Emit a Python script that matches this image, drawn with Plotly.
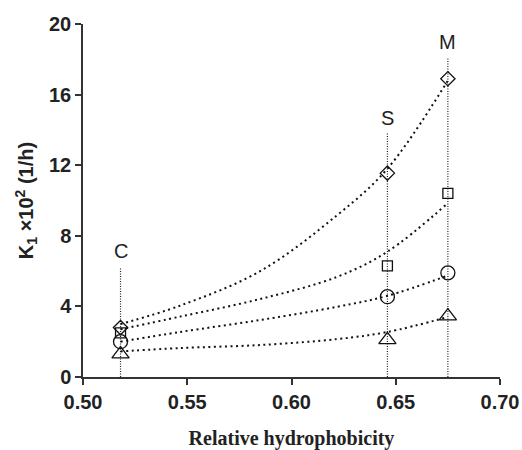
import plotly.graph_objects as go

# Data
x_sites = [0.518, 0.646, 0.675]
site_labels = ["C", "S", "M"]
line_tops = [6.2, 13.8, 18.1]
label_y = [7.15, 14.65, 19.0]
y_diamond = [2.8, 11.55, 16.9]
y_square = [2.5, 6.3, 10.4]
y_circle = [2.0, 4.55, 5.9]
y_triangle = [1.3, 2.1, 3.45]

# trend curves
x_trend = [0.518, 0.5465, 0.585, 0.622, 0.646, 0.675]
trend_diamond = [3.0, 4.04, 6.0, 9.18, 11.8, 16.8]
trend_square = [2.7, 3.42, 4.42, 5.68, 7.1, 9.85]
trend_circle = [2.0, 2.55, 3.23, 3.98, 4.6, 5.75]
trend_triangle = [1.45, 1.64, 1.81, 2.15, 2.55, 3.4]

symbols = ["diamond", "square", "circle", "triangle-up"]
sizes = [11, 10, 14, 15]
x_ticks = [0.50, 0.55, 0.60, 0.65, 0.70]
y_ticks = [0, 4, 8, 12, 16, 20]

fig = go.Figure()

# vertical dotted lines
for xs, top in zip(x_sites, line_tops):
    fig.add_trace(go.Scatter(x=[xs, xs], y=[0, top], mode="lines",
                             line=dict(color="#222", width=1.2, dash="1px,1.5px"),
                             showlegend=False, hoverinfo="skip"))

for tr in [trend_diamond, trend_square, trend_circle, trend_triangle]:
    fig.add_trace(go.Scatter(x=x_trend, y=tr, mode="lines",
                             line=dict(color="#111", width=2, dash="2px,3.5px",
                                       shape="spline", smoothing=1),
                             showlegend=False, hoverinfo="skip"))

for ys, sym, sz in zip([y_diamond, y_square, y_circle, y_triangle], symbols, sizes):
    fig.add_trace(go.Scatter(x=x_sites, y=ys, mode="markers",
                             marker=dict(symbol=sym, size=sz, color="rgba(255,255,255,0)",
                                         line=dict(color="#111", width=1.3)),
                             showlegend=False))

for xs, lab, ly in zip(x_sites, site_labels, label_y):
    fig.add_annotation(x=xs, y=ly, text=lab, showarrow=False,
                       font=dict(family="Liberation Sans, Arial", size=20, color="#222"))

tickfont = dict(family="Liberation Sans, Arial", size=20, color="#222", weight="bold")
fig.update_layout(
    width=522, height=450,
    margin=dict(l=83, r=22, t=24, b=73),
    plot_bgcolor="white", paper_bgcolor="white",
    xaxis=dict(range=[0.50, 0.70], tickvals=x_ticks, ticktext=[f"{v:.2f}" for v in x_ticks],
               showgrid=False, zeroline=False, showline=True, linecolor="#333", linewidth=1.5,
               ticks="outside", ticklen=6, tickcolor="#333", tickwidth=1.5,
               tickfont=tickfont, automargin=False,
               title=dict(text="<b>Relative hydrophobicity</b>", standoff=19,
                          font=dict(family="Liberation Serif, Times New Roman", size=20, color="#222"))),
    yaxis=dict(range=[0, 20], tickvals=y_ticks,
               showgrid=False, zeroline=False, showline=True, linecolor="#333", linewidth=1.5,
               ticks="outside", ticklen=6, tickcolor="#333", tickwidth=1.5,
               tickfont=tickfont, automargin=False,
               title=dict(text="<b>K<sub>1</sub> ×10<sup>2</sup> (1/h)</b>", standoff=10,
                          font=dict(family="Liberation Sans, Arial", size=20, color="#222"))),
)

fig.write_html("out.html")
